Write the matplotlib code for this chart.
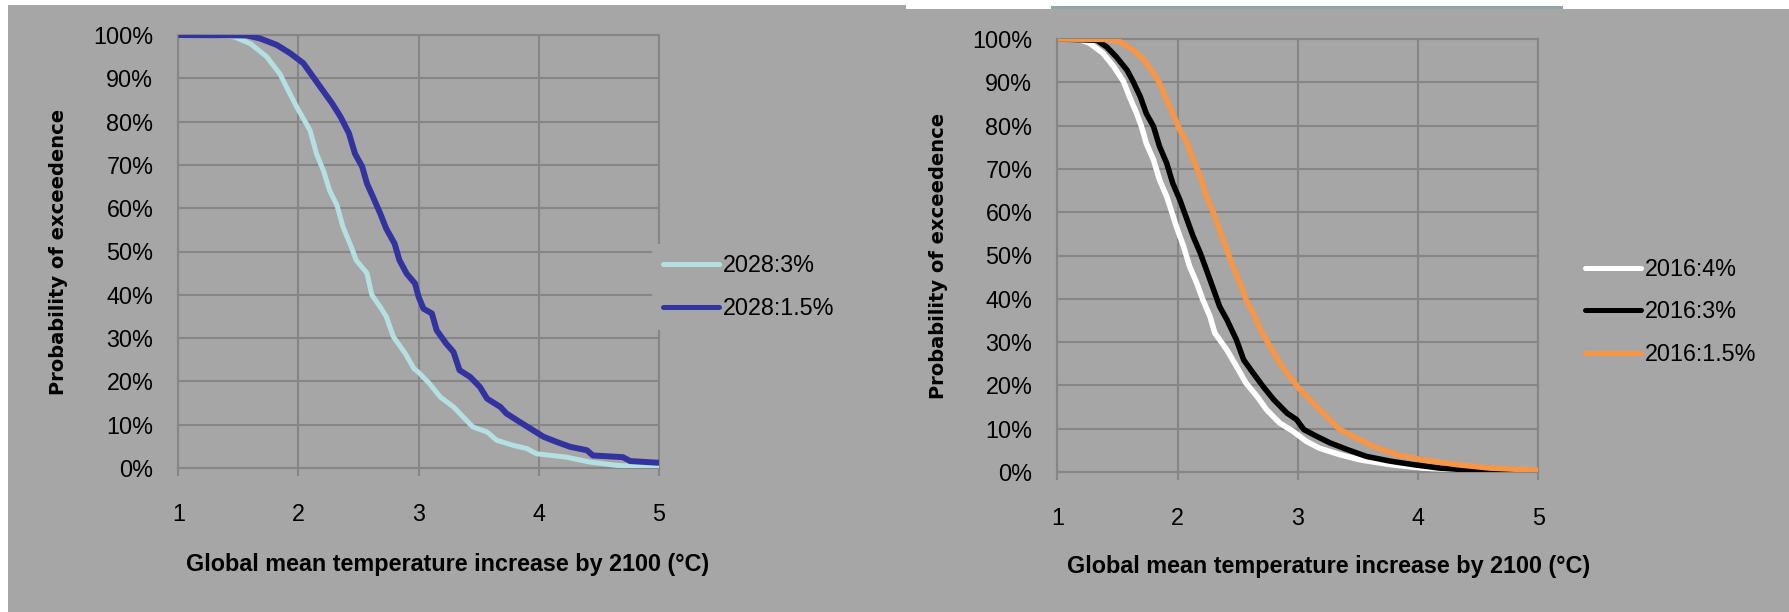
import matplotlib
matplotlib.use("Agg")
import matplotlib.pyplot as plt
from matplotlib.patches import Rectangle
from matplotlib.ticker import FixedLocator, FixedFormatter

# ---------------- data ----------------
x_ticks = [1, 2, 3, 4, 5]
y_ticks = [0, 10, 20, 30, 40, 50, 60, 70, 80, 90, 100]
y_tick_labels = ["0%", "10%", "20%", "30%", "40%", "50%", "60%", "70%", "80%", "90%", "100%"]

xlabel = "Global mean temperature increase by 2100 (°C)"
ylabel = "Probability of exceedence"

# left panel
t_2028_3 = [1.0, 1.3, 1.46, 1.6, 1.735, 1.846, 1.9, 1.985, 2.096, 2.15, 2.21, 2.26, 2.32, 2.37,
            2.44, 2.48, 2.57, 2.61, 2.68, 2.73, 2.79, 2.89, 2.96, 3.01, 3.09, 3.18, 3.29, 3.37,
            3.45, 3.57, 3.65, 3.79, 3.90, 3.98, 4.23, 4.42, 4.65, 5.0]
p_2028_3 = [100, 99.9, 99.6, 98, 95, 91, 88, 83.4, 78, 72.6, 68.5, 64, 60.7, 55.7,
            51, 48, 45, 40, 37.2, 35, 30.3, 26.4, 23, 21.8, 19.5, 16.4, 14.1, 11.8,
            9.5, 8.3, 6.4, 5.2, 4.5, 3.3, 2.5, 1.4, 0.6, 0.2]

t_2028_15 = [1.0, 1.57, 1.68, 1.82, 1.93, 2.04, 2.12, 2.21, 2.28, 2.35, 2.42, 2.47, 2.53, 2.57,
             2.62, 2.68, 2.73, 2.80, 2.84, 2.90, 2.97, 3.00, 3.04, 3.11, 3.15, 3.23, 3.29, 3.34,
             3.43, 3.51, 3.57, 3.68, 3.73, 3.82, 3.93, 4.04, 4.15, 4.26, 4.40, 4.45, 4.70, 4.76, 5.0]
p_2028_15 = [100, 99.9, 99.2, 97.7, 95.8, 93.5, 90.4, 86.9, 84.2, 81.1, 77.3, 72.6, 69.6, 65.7,
             62.6, 58.8, 55.3, 51.8, 48, 44.9, 42.6, 39.5, 36.8, 35.7, 31.8, 28.7, 26.8, 22.6,
             21, 18.7, 16, 14.1, 12.6, 11, 9.1, 7.2, 6, 4.9, 4.1, 2.9, 2.5, 1.6, 1.2]

# right panel
t_2016_4 = [1.0, 1.19, 1.27, 1.38, 1.47, 1.55, 1.60, 1.66, 1.70, 1.74, 1.80, 1.85, 1.91, 1.95,
            1.99, 2.05, 2.10, 2.16, 2.21, 2.27, 2.31, 2.41, 2.49, 2.57, 2.66, 2.74, 2.85, 2.96,
            3.07, 3.18, 3.35, 3.52, 3.77, 4.04, 4.46, 5.0]
p_2016_4 = [100, 99.8, 99, 96.7, 93.6, 90.2, 86.7, 82.8, 79.8, 75.9, 72.1, 67.5, 63.6, 60.2,
            56.7, 52.1, 47.5, 43.6, 39.8, 35.9, 32.1, 28.2, 24.4, 20.5, 17.5, 14.4, 11.3, 9.4,
            7.1, 5.5, 4.0, 2.8, 1.7, 0.9, 0.4, 0.1]

t_2016_3 = [1.0, 1.33, 1.41, 1.49, 1.58, 1.63, 1.69, 1.74, 1.80, 1.85, 1.91, 1.96, 2.02, 2.08,
            2.13, 2.19, 2.24, 2.30, 2.35, 2.41, 2.49, 2.55, 2.63, 2.71, 2.80, 2.91, 2.99, 3.05,
            3.16, 3.27, 3.41, 3.57, 3.77, 3.96, 4.18, 4.46, 5.0]
p_2016_3 = [100, 99.7, 98.2, 95.9, 92.8, 90.2, 86.7, 82.8, 79.8, 75.2, 71.3, 66.7, 62.8, 58.2,
            54.4, 50.5, 46.7, 42.1, 38.2, 35.2, 30.5, 25.9, 22.8, 19.8, 16.7, 13.6, 12.1, 9.8,
            8.2, 6.7, 5.2, 3.6, 2.5, 1.7, 0.9, 0.4, 0.1]

t_2016_15 = [1.0, 1.41, 1.52, 1.63, 1.72, 1.80, 1.85, 1.91, 1.96, 2.02, 2.08, 2.13, 2.19, 2.24,
             2.30, 2.35, 2.41, 2.46, 2.52, 2.57, 2.63, 2.69, 2.77, 2.85, 2.93, 3.02, 3.13, 3.24,
             3.35, 3.49, 3.63, 3.82, 4.04, 4.32, 4.60, 5.0]
p_2016_15 = [100, 99.9, 99.4, 97.5, 95.2, 92.1, 89.8, 85.9, 82.8, 79, 75.9, 72.1, 68.2, 63.6,
             59.8, 55.9, 51.3, 47.5, 43.6, 39.8, 36.7, 32.8, 29, 25.2, 22.1, 19, 15.9, 12.8,
             9.8, 7.8, 5.9, 4, 2.8, 1.7, 0.9, 0.4]

left_series = [("2028:3%", t_2028_3, p_2028_3), ("2028:1.5%", t_2028_15, p_2028_15)]
right_series = [("2016:4%", t_2016_4, p_2016_4), ("2016:3%", t_2016_3, p_2016_3),
                ("2016:1.5%", t_2016_15, p_2016_15)]

# ---------------- style ----------------
W, H = 1789, 612
BG = "#A6A6A6"
GRID = "#868686"
TICK_FONT = ["Liberation Sans", "DejaVu Sans"]
XLAB_FONT = ["Liberation Sans", "DejaVu Sans"]
YLAB_FONT = ["DejaVu Sans"]
left_styles = [dict(color="#B4E0E2", lw=3.6), dict(color="#3333A0", lw=4.3)]
right_styles = [dict(color="#FFFFFF", lw=4.0), dict(color="#000000", lw=4.0),
                dict(color="#F79646", lw=4.0)]

fig = plt.figure(figsize=(W / 100, H / 100), dpi=100, facecolor="white")


def px(x0, y0, x1, y1):
    """pixel box (top-down) -> figure fraction rect"""
    return (x0 / W, 1 - y1 / H, (x1 - x0) / W, (y1 - y0) / H)


# backgrounds
for (x0, y0, x1, y1) in [(8, 5, 906, 612), (906, 9, 1789, 612)]:
    r = px(x0, y0, x1, y1)
    fig.patches.append(Rectangle((r[0], r[1]), r[2], r[3], transform=fig.transFigure,
                                 facecolor=BG, edgecolor="none", zorder=-5))
r = px(1051, 6, 1563, 9)
fig.patches.append(Rectangle((r[0], r[1]), r[2], r[3], transform=fig.transFigure,
                             facecolor="#8FA5A8", edgecolor="none", zorder=-5))


def make_panel(box, series, styles, ylab_x, xlab_xy, leg_xy):
    ax = fig.add_axes(px(*box))
    ax.set_zorder(2)
    ax.set_facecolor("none")
    for (name, t, p), st in zip(series, styles):
        ax.plot(t, p, label=name, color=st["color"], lw=st["lw"],
                solid_capstyle="butt", solid_joinstyle="round", zorder=3)
    ax.set_xlim(1, 5)
    ax.set_ylim(0, 100)
    ax.xaxis.set_major_locator(FixedLocator(x_ticks))
    ax.xaxis.set_major_formatter(FixedFormatter([str(v) for v in x_ticks]))
    ax.yaxis.set_major_locator(FixedLocator(y_ticks))
    ax.yaxis.set_major_formatter(FixedFormatter(y_tick_labels))
    ax.grid(True, color=GRID, lw=1.5, zorder=1)
    ax.set_axisbelow(True)
    for s in ax.spines.values():
        s.set_color(GRID)
        s.set_linewidth(1.5)
        s.set_zorder(1)
    ax.tick_params(axis="x", length=6, width=1.5, color=GRID, pad=19, labelsize=16.8)
    ax.tick_params(axis="y", length=0, pad=18, labelsize=16.8)
    for lab in ax.get_xticklabels() + ax.get_yticklabels():
        lab.set_family(TICK_FONT)
        lab.set_color("black")
    fig.text(ylab_x / W, 1 - (box[1] + box[3]) / 2 / H, ylabel, rotation=90,
             ha="center", va="center", fontsize=14, fontweight="bold", family=YLAB_FONT)
    fig.text(xlab_xy[0] / W, 1 - xlab_xy[1] / H, xlabel, ha="center", va="center",
             fontsize=16.8, fontweight="bold", family=XLAB_FONT)
    leg = ax.legend(loc="center left", bbox_to_anchor=(leg_xy[0] / W, 1 - leg_xy[1] / H),
                    bbox_transform=fig.transFigure, frameon=True, facecolor=BG,
                    edgecolor="none", framealpha=1, fancybox=False,
                    prop={"family": TICK_FONT, "size": 16.8}, handlelength=2.4,
                    handletextpad=0.18, labelspacing=0.85, borderpad=0.45,
                    borderaxespad=0)
    leg.set_zorder(5)
    for h in leg.get_lines():
        h.set_solid_capstyle("round")
        h.set_linewidth(3.6)
    return ax


make_panel((178.3, 35, 659, 468), left_series, left_styles, 59, (448, 564), (652, 287))
make_panel((1057.3, 39, 1538.3, 472), right_series, right_styles, 939, (1329, 566), (1574, 312))

fig.savefig("out.png", dpi=100, facecolor="white")
